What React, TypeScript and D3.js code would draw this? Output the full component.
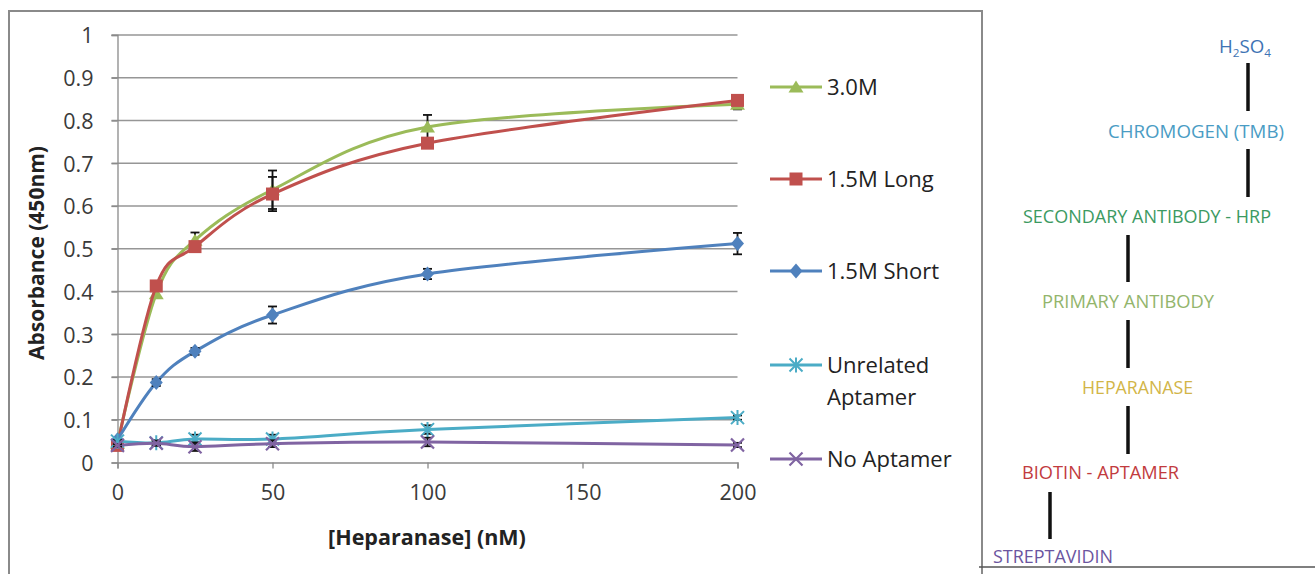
import React, { useEffect, useRef } from "react";
import * as d3 from "d3";

// [Heparanase] (nM)
const concentrations = [0, 12.5, 25, 50, 100, 200];

const seriesNames = ["3.0M", "1.5M Long", "1.5M Short", "Unrelated Aptamer", "No Aptamer"];
const seriesColors = ["#9BBB59", "#C0504D", "#4F81BD", "#4BACC6", "#8064A2"];
const seriesMarkers = ["triangle", "square", "diamond", "asterisk", "x"];

const absorb30M = [0.045, 0.395, 0.52, 0.638, 0.785, 0.838];
const absorb15Long = [0.04, 0.413, 0.505, 0.628, 0.747, 0.847];
const absorb15Short = [0.053, 0.187, 0.26, 0.345, 0.441, 0.512];
const absorbUnrelated = [0.05, 0.046, 0.055, 0.055, 0.077, 0.105];
const absorbNone = [0.04, 0.045, 0.037, 0.044, 0.048, 0.041];

const err30M = [0.003, 0.008, 0.018, 0.045, 0.028, 0.012];
const err15Long = [0.003, 0.008, 0.01, 0.04, 0.01, 0.01];
const err15Short = [0.003, 0.008, 0.008, 0.02, 0.012, 0.025];
const errUnrelated = [0.003, 0.006, 0.01, 0.01, 0.01, 0.005];
const errNone = [0.003, 0.006, 0.01, 0.008, 0.01, 0.005];

const xTicks = [0, 50, 100, 150, 200];
const yTicks = [0, 0.1, 0.2, 0.3, 0.4, 0.5, 0.6, 0.7, 0.8, 0.9, 1];

// assay schematic on the right
const diagramLabels = [
	"H2SO4",
	"CHROMOGEN (TMB)",
	"SECONDARY ANTIBODY - HRP",
	"PRIMARY ANTIBODY",
	"HEPARANASE",
	"BIOTIN - APTAMER",
	"STREPTAVIDIN",
];
const diagramColors = ["#3E74B4", "#4A9CC4", "#3C9A62", "#93B56C", "#D2B548", "#C23B3E", "#6B55A0"];

const FONT = "'Open Sans', 'DejaVu Sans', sans-serif";

function App() {
	const svgRef = useRef<SVGSVGElement>(null);

	useEffect(() => {
		const svg = d3.select(svgRef.current);
		svg.selectAll("*").remove();

		const width = 1315;
		const height = 574;
		svg.attr("width", width).attr("height", height);

		const values = [absorb30M, absorb15Long, absorb15Short, absorbUnrelated, absorbNone];
		const errors = [err30M, err15Long, err15Short, errUnrelated, errNone];

		const x = d3.scaleLinear().domain([0, 200]).range([117.5, 737.5]);
		const y = d3.scaleLinear().domain([0, 1]).range([462.5, 35]);

		// chart frame
		svg.append("rect")
			.attr("x", 9)
			.attr("y", 11)
			.attr("width", 973)
			.attr("height", 600)
			.attr("fill", "white")
			.attr("stroke", "#8a8a8a")
			.attr("stroke-width", 2);

		// gridlines
		svg.append("g")
			.selectAll("line")
			.data(yTicks.slice(1))
			.join("line")
			.attr("x1", x(0) - 6)
			.attr("x2", x(200))
			.attr("y1", (d) => y(d))
			.attr("y2", (d) => y(d))
			.attr("stroke", "#969696")
			.attr("stroke-width", 1.3);

		// axes
		const yAxis = svg.append("g").attr("transform", `translate(${x(0)},0)`);
		yAxis.call(d3.axisLeft(y).tickValues(yTicks).tickSize(6).tickFormat((d) => d3.format("")(d as number)));
		const xAxis = svg.append("g").attr("transform", `translate(0,${y(0)})`);
		xAxis.call(d3.axisBottom(x).tickValues(xTicks).tickSize(6));
		[yAxis, xAxis].forEach((a) => {
			a.select(".domain").attr("stroke", "#8a8a8a").attr("stroke-width", 1.3);
			a.selectAll(".tick line").attr("stroke", "#8a8a8a").attr("stroke-width", 1.3);
			a.selectAll(".tick text")
				.attr("font-family", FONT)
				.attr("font-size", 21.5)
				.attr("fill", "#3a3a3a");
		});
		yAxis.selectAll(".tick text").attr("x", -24).attr("dy", "0.36em");
		xAxis.selectAll(".tick text").attr("y", 22).attr("dy", "0.71em");

		// axis titles
		svg.append("text")
			.attr("transform", `translate(44,253) rotate(-90)`)
			.attr("text-anchor", "middle")
			.attr("font-family", FONT)
			.attr("font-weight", "bold")
			.attr("font-size", 21)
			.attr("fill", "#222")
			.text("Absorbance (450nm)");
		svg.append("text")
			.attr("x", 427)
			.attr("y", 545)
			.attr("text-anchor", "middle")
			.attr("font-family", FONT)
			.attr("font-weight", "bold")
			.attr("font-size", 21.5)
			.attr("fill", "#222")
			.text("[Heparanase] (nM)");

		const drawMarker = (g, type: string, color: string) => {
			const s = 6.5;
			if (type === "triangle") {
				g.append("path").attr("d", `M0,${-s}L${s + 1},${s - 1}L${-s - 1},${s - 1}Z`).attr("fill", color);
			} else if (type === "square") {
				g.append("rect").attr("x", -s).attr("y", -s).attr("width", 2 * s).attr("height", 2 * s).attr("fill", color);
			} else if (type === "diamond") {
				g.append("path").attr("d", `M0,${-s - 1}L${s},0L0,${s + 1}L${-s},0Z`).attr("fill", color);
			} else if (type === "asterisk") {
				g.append("path")
					.attr("d", `M${-s},${-s}L${s},${s}M${-s},${s}L${s},${-s}M0,${-s - 1}L0,${s + 1}`)
					.attr("stroke", color)
					.attr("stroke-width", 2)
					.attr("fill", "none");
			} else {
				g.append("path")
					.attr("d", `M${-s},${-s}L${s},${s}M${-s},${s}L${s},${-s}`)
					.attr("stroke", color)
					.attr("stroke-width", 2.2)
					.attr("fill", "none");
			}
		};

		const line = d3
			.line<number>()
			.x((d, i) => x(concentrations[i]))
			.y((d) => y(d))
			.curve(d3.curveCardinal.tension(0));

		values.forEach((vals, si) => {
			const color = seriesColors[si];
			const g = svg.append("g");
			g.append("path")
				.attr("d", line(vals))
				.attr("fill", "none")
				.attr("stroke", color)
				.attr("stroke-width", 3);

			// error bars
			vals.forEach((v, i) => {
				const e = errors[si][i];
				const cx = x(concentrations[i]);
				const eb = g.append("g").attr("stroke", "#111").attr("stroke-width", 1.8);
				eb.append("line").attr("x1", cx).attr("x2", cx).attr("y1", y(v - e)).attr("y2", y(v + e));
				eb.append("line").attr("x1", cx - 4.5).attr("x2", cx + 4.5).attr("y1", y(v - e)).attr("y2", y(v - e));
				eb.append("line").attr("x1", cx - 4.5).attr("x2", cx + 4.5).attr("y1", y(v + e)).attr("y2", y(v + e));
			});

			vals.forEach((v, i) => {
				const m = g.append("g").attr("transform", `translate(${x(concentrations[i])},${y(v)})`);
				drawMarker(m, seriesMarkers[si], color);
			});
		});

		// legend
		const legendY = [87, 179, 271, 365, 459];
		const legend = svg.append("g");
		seriesNames.forEach((name, i) => {
			const row = legend.append("g").attr("transform", `translate(0,${legendY[i]})`);
			row.append("line")
				.attr("x1", 770)
				.attr("x2", 822)
				.attr("stroke", seriesColors[i])
				.attr("stroke-width", 3);
			drawMarker(row.append("g").attr("transform", "translate(796,0)"), seriesMarkers[i], seriesColors[i]);
			const words = name === "Unrelated Aptamer" ? ["Unrelated", "Aptamer"] : [name];
			words.forEach((w, j) => {
				row.append("text")
					.attr("x", 827)
					.attr("y", j * 32)
					.attr("dy", "0.36em")
					.attr("font-family", FONT)
					.attr("font-size", 22)
					.attr("fill", "#222")
					.text(w);
			});
		});

		// right panel (assay schematic)
		svg.append("line")
			.attr("x1", 979)
			.attr("x2", width)
			.attr("y1", 567)
			.attr("y2", 567)
			.attr("stroke", "#555")
			.attr("stroke-width", 1.5);

		const labelPos = [
			[1219, 47, 52],
			[1108, 132, 176],
			[1023, 217, 248],
			[1042, 302, 172],
			[1082, 388, 111],
			[1022, 473, 157],
			[993, 557, 120],
		];
		diagramLabels.forEach((lab, i) => {
			const [lx, ly, lw] = labelPos[i];
			const t = svg.append("text")
				.attr("x", lx)
				.attr("y", ly)
				.attr("dy", "0.36em")
				.attr("font-family", FONT)
				.attr("font-size", 17.5)
				.attr("fill", diagramColors[i])
				.attr("textLength", lw)
				.attr("lengthAdjust", "spacingAndGlyphs");
			if (lab === "H2SO4") {
				t.append("tspan").text("H");
				t.append("tspan").attr("font-size", 11).attr("dy", 4).text("2");
				t.append("tspan").attr("dy", -4).text("SO");
				t.append("tspan").attr("font-size", 11).attr("dy", 4).text("4");
			} else {
				t.text(lab);
			}
		});

		const connectors = [
			[1248, 63, 111],
			[1248, 149, 197],
			[1128, 235, 282],
			[1128, 320, 368],
			[1128, 406, 454],
			[1050, 492, 539],
		];
		svg.append("g")
			.selectAll("line")
			.data(connectors)
			.join("line")
			.attr("x1", (d) => d[0])
			.attr("x2", (d) => d[0])
			.attr("y1", (d) => d[1])
			.attr("y2", (d) => d[2])
			.attr("stroke", "#111")
			.attr("stroke-width", 3.5);
	}, []);

	return (
		<div style={{ position: "absolute", left: 0, top: 0, width: 1315, height: 574, overflow: "hidden" }}>
			<svg ref={svgRef} style={{ display: "block" }}></svg>
		</div>
	);
}

export default App;
